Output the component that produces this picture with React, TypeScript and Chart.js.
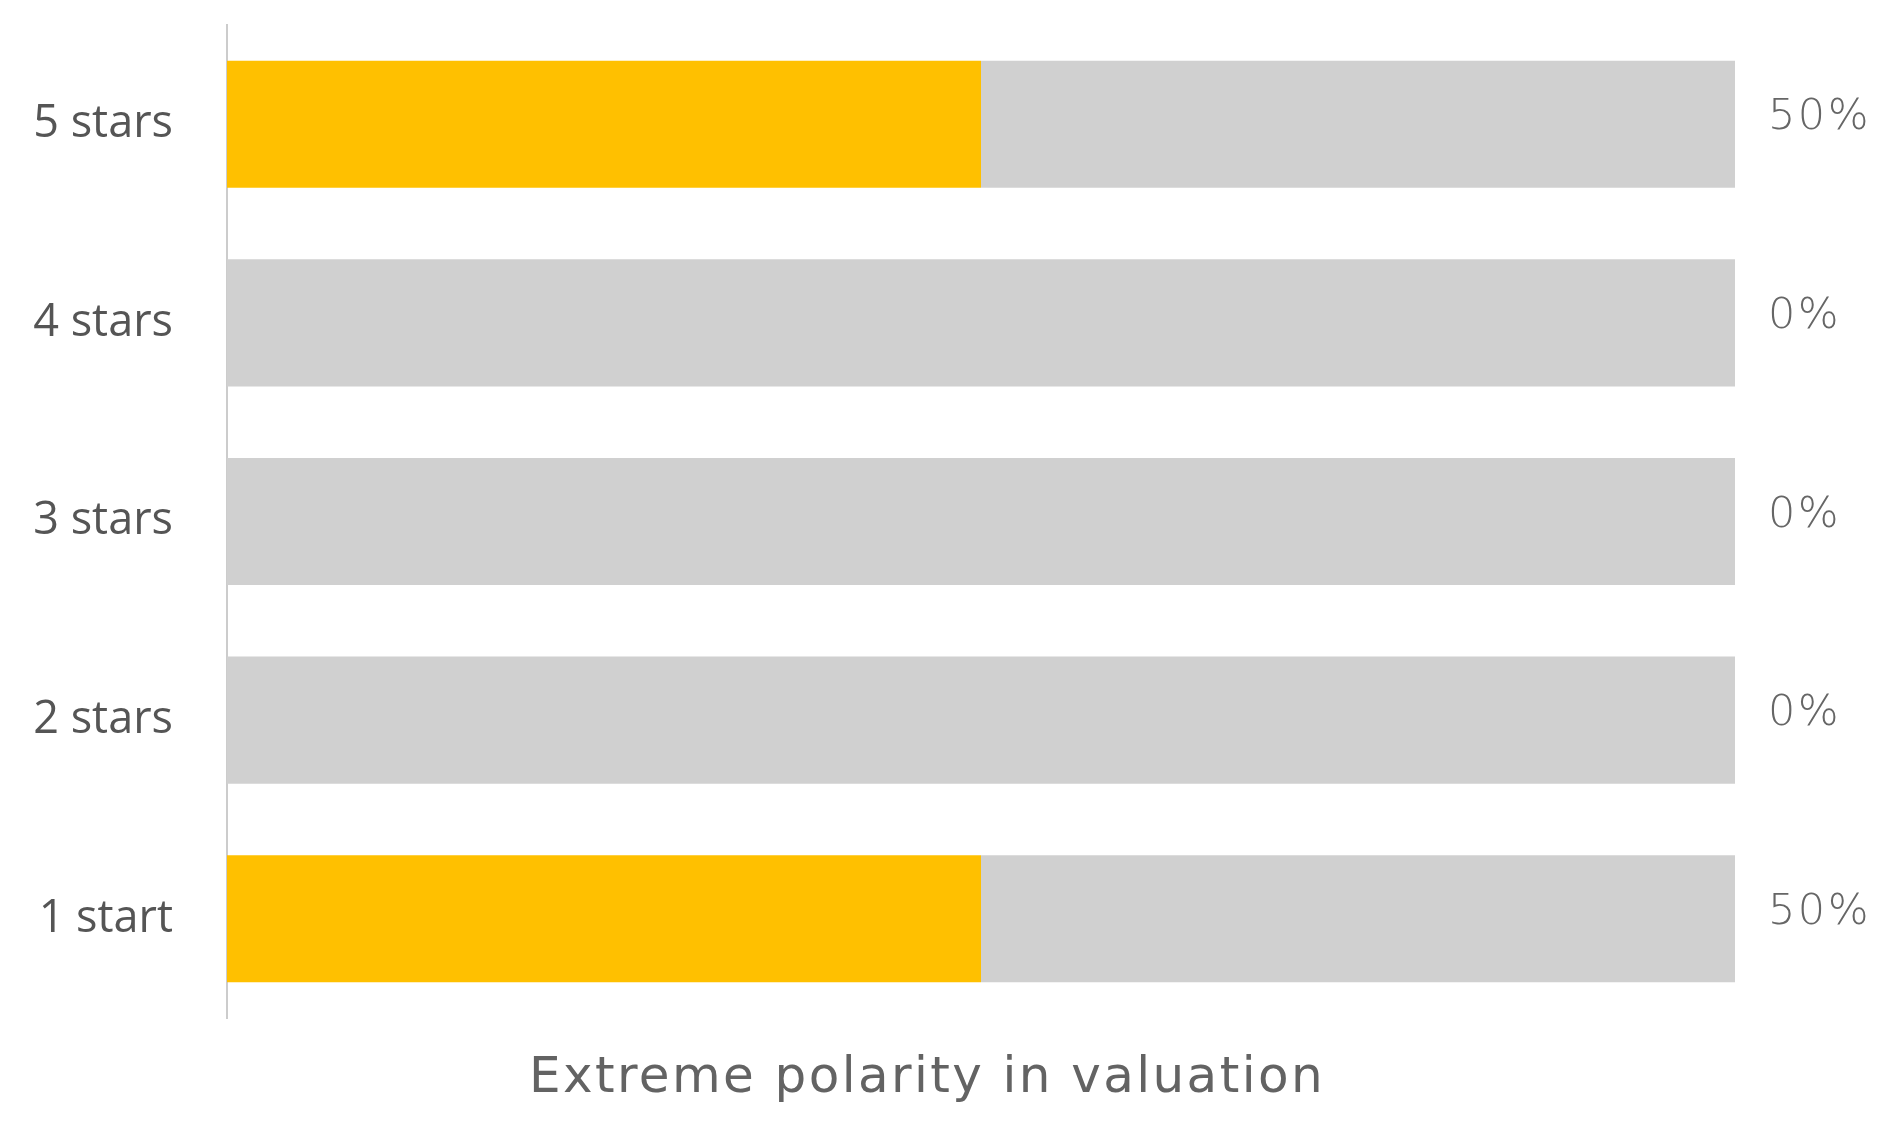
import React, { useEffect, useRef } from "react";
import { Chart, registerables } from "chart.js";

Chart.register(...registerables);

const categories = ["5 stars", "4 stars", "3 stars", "2 stars", "1 start"];
const shareValues = [50, 0, 0, 0, 50];
const totalValue = 100;
const axisTitle = "Extreme polarity in valuation";

const YELLOW = "#FFC000";
const GREY = "#D0D0D0";

const valueLabelPlugin = {
  id: "valueLabels",
  afterDatasetsDraw(chart: any) {
    const ctx = chart.ctx;
    const meta = chart.getDatasetMeta(1);
    ctx.save();
    ctx.font = '200 43px "DejaVu Sans ExtraLight", "DejaVu Sans", sans-serif';
    try {
      (ctx as any).letterSpacing = "2.5px";
    } catch (e) {}
    ctx.fillStyle = "#666666";
    ctx.textAlign = "left";
    ctx.textBaseline = "middle";
    meta.data.forEach((el: any, i: number) => {
      ctx.fillText(shareValues[i] + "%", el.x + 33, el.y - 6);
    });
    ctx.restore();
  },
};

const bottomTitlePlugin = {
  id: "bottomTitle",
  afterDraw(chart: any) {
    const ctx = chart.ctx;
    ctx.save();
    ctx.font = '50px "DejaVu Sans", sans-serif';
    try {
      (ctx as any).letterSpacing = "2.4px";
    } catch (e) {}
    ctx.fillStyle = "#636363";
    ctx.textAlign = "center";
    ctx.textBaseline = "alphabetic";
    ctx.fillText(axisTitle, 927, 1092);
    ctx.restore();
  },
};

export default function App() {
  const ref = useRef<HTMLCanvasElement | null>(null);

  useEffect(() => {
    if (!ref.current) return;
    const remainder = shareValues.map((v) => totalValue - v);
    const chart = new Chart(ref.current, {
      type: "bar",
      data: {
        labels: categories,
        datasets: [
          {
            label: "share",
            data: shareValues,
            backgroundColor: YELLOW,
            borderWidth: 0,
            barPercentage: 0.64,
            categoryPercentage: 1,
          },
          {
            label: "rest",
            data: remainder,
            backgroundColor: GREY,
            borderWidth: 0,
            barPercentage: 0.64,
            categoryPercentage: 1,
          },
        ],
      },
      options: {
        indexAxis: "y",
        animation: false,
        responsive: false,
        maintainAspectRatio: false,
        layout: { padding: { left: 0, right: 157, top: 25, bottom: 111 } },
        plugins: {
          legend: { display: false },
          tooltip: { enabled: false },
          title: { display: false },
        },
        scales: {
          x: {
            display: false,
            stacked: true,
            min: 0,
            max: totalValue,
          },
          y: {
            stacked: true,
            afterFit: (scale: any) => {
              scale.width = 227;
            },
            grid: { display: false, drawTicks: true, tickLength: 54 },
            border: { display: true, color: "#cccccc", width: 2 },
            ticks: {
              padding: 0,
              color: "#555555",
              font: { family: '"Open Sans", "Liberation Sans", sans-serif', size: 45, lineHeight: 1.05 },
            },
          },
        },
      },
      plugins: [valueLabelPlugin, bottomTitlePlugin],
    });
    return () => chart.destroy();
  }, []);

  return (
    <div style={{ position: "fixed", left: 0, top: 0, width: 1892, height: 1129, background: "#ffffff" }}>
      <canvas ref={ref} width={1892} height={1129} style={{ width: 1892, height: 1129, display: "block" }} />
    </div>
  );
}
